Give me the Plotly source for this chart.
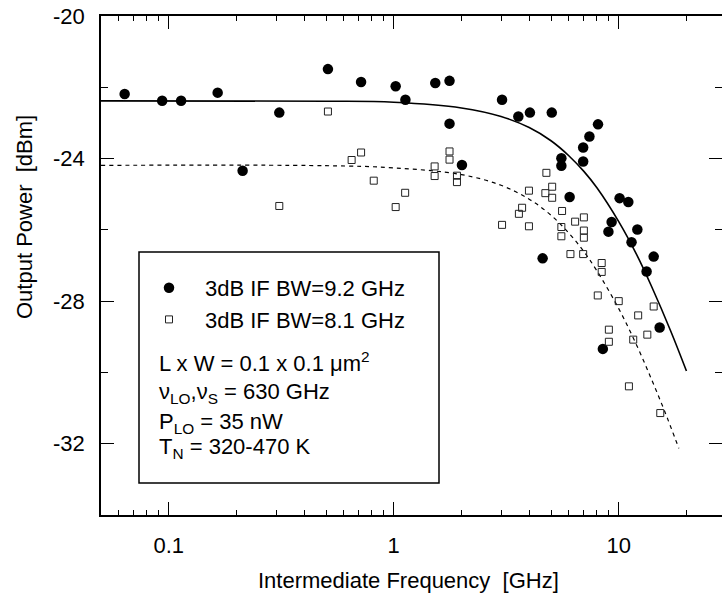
import math
import plotly.graph_objects as go

# ---- data ----
f_filled = [0.0637, 0.0935, 0.1135, 0.165, 0.213, 0.310, 0.510, 0.716, 1.02, 1.127,
            1.53, 1.77, 1.77, 2.01, 3.03, 3.58, 4.03, 5.04, 4.59, 5.56,
            5.56, 6.05, 6.95, 6.95, 7.41, 8.09, 9.0, 9.3, 10.09, 11.03,
            11.4, 12.1, 13.3, 14.3, 15.2, 8.5]
p_filled = [-22.19, -22.38, -22.38, -22.15, -24.34, -22.71, -21.49, -21.85, -21.97, -22.35,
            -21.88, -21.82, -23.02, -24.18, -22.35, -22.82, -22.71, -22.71, -26.8, -23.99,
            -24.20, -25.08, -23.69, -24.08, -23.38, -23.04, -26.05, -25.78, -25.11, -25.22,
            -26.35, -25.99, -27.17, -26.75, -28.74, -29.34]

f_open = [0.31, 0.51, 0.65, 0.716, 0.815, 1.02, 1.124, 1.52, 1.52, 1.77,
          1.77, 1.91, 1.91, 3.03, 3.6, 3.72, 3.99, 3.99, 4.72, 4.77,
          5.06, 5.06, 5.6, 5.56, 5.56, 6.1, 6.4, 7.0, 7.0, 7.0,
          6.95, 8.4, 8.4, 8.07, 10.0, 12.2, 14.3, 13.4, 11.6, 9.04,
          9.04, 11.1, 15.3]
p_open = [-25.33, -22.68, -24.04, -23.83, -24.62, -25.36, -24.96, -24.22, -24.49, -23.80,
          -24.03, -24.48, -24.66, -25.86, -25.55, -25.38, -24.90, -25.90, -24.97, -24.40,
          -24.79, -25.10, -25.47, -25.92, -26.18, -26.68, -25.77, -25.65, -26.02, -26.22,
          -26.68, -26.93, -27.18, -27.84, -28.00, -28.40, -28.15, -28.94, -29.08, -28.80,
          -29.14, -30.39, -31.14]

# fitted curves
f_fit1 = [0.05, 0.5, 1, 2, 3, 4, 5, 6, 7, 8, 10, 12, 14, 17, 20]
p_fit1 = [-22.38, -22.39, -22.42, -22.58, -22.82, -23.13, -23.5, -23.92, -24.36, -24.82,
          -25.77, -26.69, -27.59, -28.83, -29.96]
f_fit2 = [0.05, 0.5, 1, 2, 3, 4, 5, 6, 7, 8, 10, 12, 14, 16, 18.5]
p_fit2 = [-24.19, -24.2, -24.26, -24.45, -24.75, -25.14, -25.59, -26.09, -26.61, -27.15,
          -28.21, -29.23, -30.2, -31.09, -32.13]

x_major = [0.1, 1, 10]
x_major_text = ["0.1", "1", "10"]
x_minor = [0.06, 0.07, 0.08, 0.09, 0.2, 0.3, 0.4, 0.5, 0.6, 0.7, 0.8, 0.9,
           2, 3, 4, 5, 6, 7, 8, 9, 20]
y_major = [-20, -24, -28, -32]
y_major_text = ["-20", "-24", "-28", "-32"]
y_minor = [-22, -26, -30, -34]

FONT = "Liberation Sans, Arial, Helvetica, sans-serif"

fig = go.Figure()
fig.add_trace(go.Scatter(x=f_fit1, y=p_fit1, mode="lines", line=dict(color="black", width=1.6, shape="spline"),
                         showlegend=False, hoverinfo="skip"))
fig.add_trace(go.Scatter(x=f_fit2, y=p_fit2, mode="lines",
                         line=dict(color="black", width=1.2, dash="4px,4px", shape="spline"),
                         showlegend=False, hoverinfo="skip"))
fig.add_trace(go.Scatter(x=f_filled, y=p_filled, mode="markers", name="3dB IF BW=9.2 GHz",
                         marker=dict(symbol="circle", size=10.5, color="black")))
fig.add_trace(go.Scatter(x=f_open, y=p_open, mode="markers", name="3dB IF BW=8.1 GHz",
                         marker=dict(symbol="square-open", size=7, color="#222", line=dict(width=1))))

W, H = 722, 596
L, R, T, B = 101, 0, 16, 596 - 515
pw, ph = W - L - R, H - T - B

def px_x(p):
    return (p - L) / pw

def px_y(p):
    return (H - B - p) / ph

fig.update_layout(
    width=W, height=H,
    margin=dict(l=L, r=R, t=T, b=B, autoexpand=False),
    paper_bgcolor="white", plot_bgcolor="white",
    font=dict(family=FONT, size=22, color="black"),
    showlegend=True,
    legend=dict(x=px_x(133), y=px_y(267), xanchor="left", yanchor="top",
                bgcolor="rgba(0,0,0,0)", borderwidth=0, itemwidth=62,
                font=dict(size=22), tracegroupgap=0),
    xaxis=dict(type="log", range=[math.log10(0.05), 1.459],
               tickmode="array", tickvals=x_major, ticktext=x_major_text,
               ticks="inside", ticklen=13, tickwidth=1.2, tickcolor="black",
               showline=True, linecolor="black", linewidth=1.5, mirror="allticks",
               showgrid=False, zeroline=False, ticklabelstandoff=10,
               ticklabeloverflow="allow",
               minor=dict(tickmode="array", tickvals=x_minor, ticks="inside", ticklen=5,
                          tickwidth=1, tickcolor="black", showgrid=False),
               tickfont=dict(size=22)),
    yaxis=dict(range=[-34, -20], tickmode="array", tickvals=y_major, ticktext=y_major_text,
               ticks="inside", ticklen=13, tickwidth=1.2, tickcolor="black",
               showline=True, linecolor="black", linewidth=1.5, mirror="allticks",
               showgrid=False, zeroline=False, ticklabelstandoff=10,
               ticklabeloverflow="allow",
               minor=dict(tickmode="array", tickvals=y_minor, ticks="inside", ticklen=7,
                          tickwidth=1, tickcolor="black", showgrid=False),
               tickfont=dict(size=22)),
)

# legend box
fig.add_shape(type="rect", xref="paper", yref="paper",
              x0=px_x(139), x1=px_x(439), y0=px_y(483), y1=px_y(252),
              line=dict(color="black", width=1.5), fillcolor="rgba(0,0,0,0)")

info = ["L x W = 0.1 x 0.1 \u03bcm<sup>2</sup>",
        "\u03bd<sub>LO</sub>,\u03bd<sub>S</sub> = 630 GHz",
        "P<sub>LO</sub> = 35 nW",
        "T<sub>N</sub> = 320-470 K"]
info_y = [362, 393, 423, 448]
for txt, yy in zip(info, info_y):
    fig.add_annotation(text=txt, xref="paper", yref="paper", x=px_x(157), y=px_y(yy),
                       xanchor="left", yanchor="middle", showarrow=False,
                       font=dict(size=22, family=FONT))

# axis titles
fig.add_annotation(text="Intermediate Frequency  [GHz]", xref="paper", yref="paper",
                   x=px_x(408), y=px_y(580), xanchor="center", yanchor="middle",
                   showarrow=False, font=dict(size=22, family=FONT))
fig.add_annotation(text="Output Power  [dBm]", xref="paper", yref="paper",
                   x=px_x(25), y=px_y(217), xanchor="center", yanchor="middle",
                   textangle=-90, showarrow=False, font=dict(size=22, family=FONT))

fig.write_html("out.html", config={"displayModeBar": False},
               post_script="document.body.style.margin='0';document.body.style.overflow='hidden';")
